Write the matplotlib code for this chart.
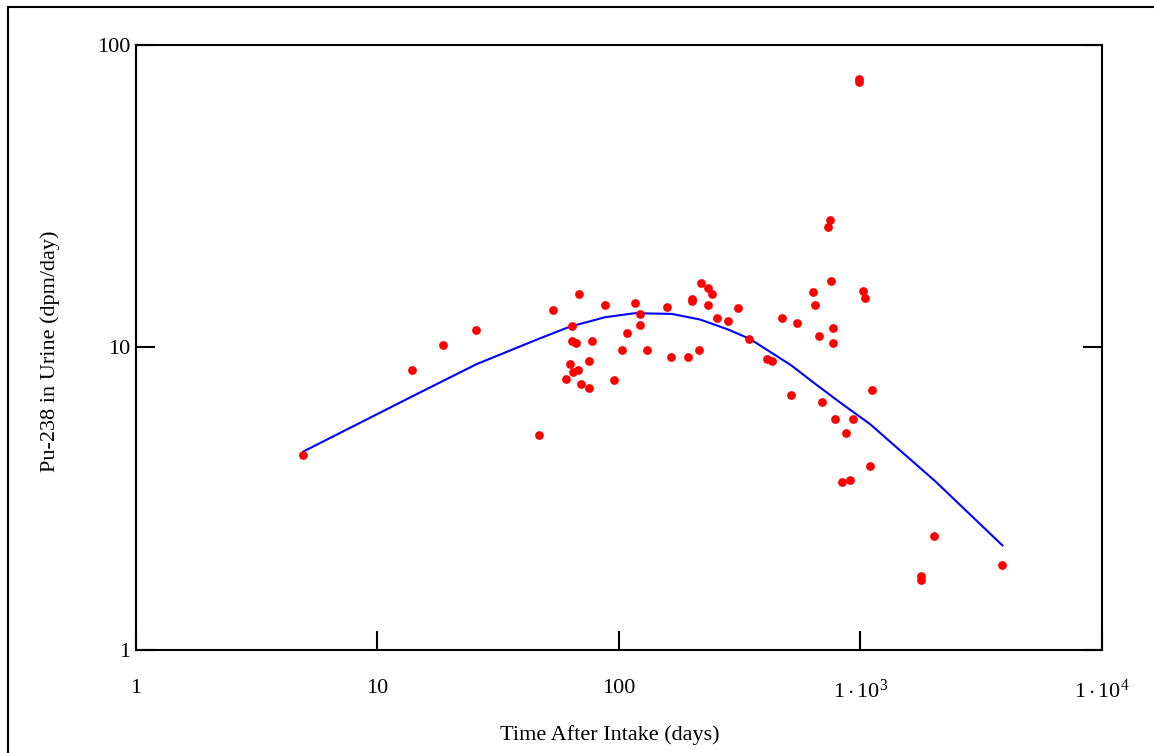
import matplotlib
matplotlib.use("Agg")
import matplotlib.pyplot as plt
from matplotlib.lines import Line2D
from matplotlib.ticker import FixedLocator, FuncFormatter, NullLocator

plt.rcParams['font.family'] = ['Liberation Serif', 'DejaVu Serif']
plt.rcParams['mathtext.fontset'] = 'custom'
plt.rcParams['mathtext.rm'] = 'Liberation Serif'
plt.rcParams['mathtext.it'] = 'Liberation Serif:italic'

# Measured urine data (days after intake, dpm/day)
days = [4.93, 13.9, 18.7, 25.7, 46.6, 53.6, 68.6, 87.7, 116.4, 122.4,
        158.8, 64.0, 63.8, 66.3, 77.4, 122.4, 108.1, 102.8, 131.2, 165.1,
        62.8, 75.0, 67.6, 64.8, 60.6, 69.7, 75.0, 95.8, 192.9, 214.3,
        218.4, 234.2, 243.3, 200.5, 200.5, 234.2, 255.9, 284.1, 311.0, 346.2,
        410.1, 432.4, 473.0, 545.8, 515.3, 635.8, 649.9, 759.3, 673.2, 773.9,
        773.9, 1024, 1044, 696.6, 786.4, 936.3, 873.4, 1119, 1098, 843.1,
        904.6, 985.8, 985.8, 747.8, 733.6, 2028, 3879, 1791, 1791]
urine = [4.41, 8.44, 10.21, 11.42, 5.14, 13.27, 15.03, 13.82, 14.03, 12.93,
         13.64, 11.75, 10.50, 10.36, 10.50, 11.89, 11.14, 9.80, 9.80, 9.29,
         8.79, 9.02, 8.44, 8.31, 7.88, 7.55, 7.36, 7.78, 9.29, 9.83,
         16.35, 15.65, 15.03, 14.47, 14.21, 13.82, 12.54, 12.23, 13.48, 10.66,
         9.15, 9.02, 12.54, 12.04, 6.96, 15.23, 13.82, 16.55, 10.94, 11.57,
         10.36, 15.30, 14.61, 6.58, 5.82, 5.82, 5.22, 7.24, 4.07, 3.60,
         3.65, 76.7, 75.1, 26.4, 25.0, 2.39, 1.91, 1.76, 1.70]

# Model curve
model_days = [4.93, 14.08, 25.79, 46.4, 62.8, 87.7, 116.7, 165.6, 217.0,
              284.1, 349.5, 520.2, 639.4, 824.8, 1098, 2041, 3879]
model_urine = [4.53, 6.92, 8.81, 10.66, 11.71, 12.58, 12.97, 12.90, 12.36,
               11.45, 10.66, 8.70, 7.66, 6.58, 5.58, 3.62, 2.22]

x_ticks = [1, 10, 100, 1000, 10000]
x_tick_labels = ['1', '10', '100', r'$1\cdot10^{3}$', r'$1\cdot10^{4}$']
y_ticks = [1, 10, 100]
y_tick_labels = ['1', '10', '100']

fig = plt.figure(figsize=(11.54, 7.53), dpi=100)
ax = fig.add_axes([136 / 1154, 1 - 650.3 / 753, (1101.7 - 136) / 1154, (650.3 - 44.5) / 753])

ax.plot(model_days, model_urine, color='#0000ff', lw=1.5, zorder=2)
ax.plot(days, urine, 'o', color='#ff0000', ms=6.3, mec='none', zorder=3)

ax.set_xscale('log')
ax.set_yscale('log')
ax.set_xlim(1, 1e4)
ax.set_ylim(1, 100)

ax.xaxis.set_major_locator(FixedLocator(x_ticks))
ax.xaxis.set_minor_locator(NullLocator())
ax.yaxis.set_major_locator(FixedLocator(y_ticks))
ax.yaxis.set_minor_locator(NullLocator())
ax.xaxis.set_major_formatter(FuncFormatter(lambda v, p: x_tick_labels[x_ticks.index(round(v))] if round(v) in x_ticks else ''))
ax.yaxis.set_major_formatter(FuncFormatter(lambda v, p: y_tick_labels[y_ticks.index(round(v))] if round(v) in y_ticks else ''))

ax.tick_params(axis='x', direction='in', length=14, width=1.5, pad=21, labelsize=16, top=False)
ax.tick_params(axis='y', direction='in', length=14, width=1.5, pad=4, labelsize=16, right=True)

for s in ax.spines.values():
    s.set_linewidth(1.5)

ax.set_xlabel('Time After Intake (days)', fontsize=16)
ax.set_ylabel('Pu-238 in Urine (dpm/day)', fontsize=16)
ax.xaxis.set_label_coords(0.4907, -0.123)
ax.yaxis.set_label_coords(-0.0783, 0.493)

# outer frame (top and left edges)
fig.add_artist(Line2D([8 / 1154, 1.0], [1 - 7 / 753, 1 - 7 / 753], transform=fig.transFigure, color='black', lw=1.5))
fig.add_artist(Line2D([8 / 1154, 8 / 1154], [0.0, 1 - 7 / 753], transform=fig.transFigure, color='black', lw=1.5))

fig.savefig('out.png', dpi=100)
